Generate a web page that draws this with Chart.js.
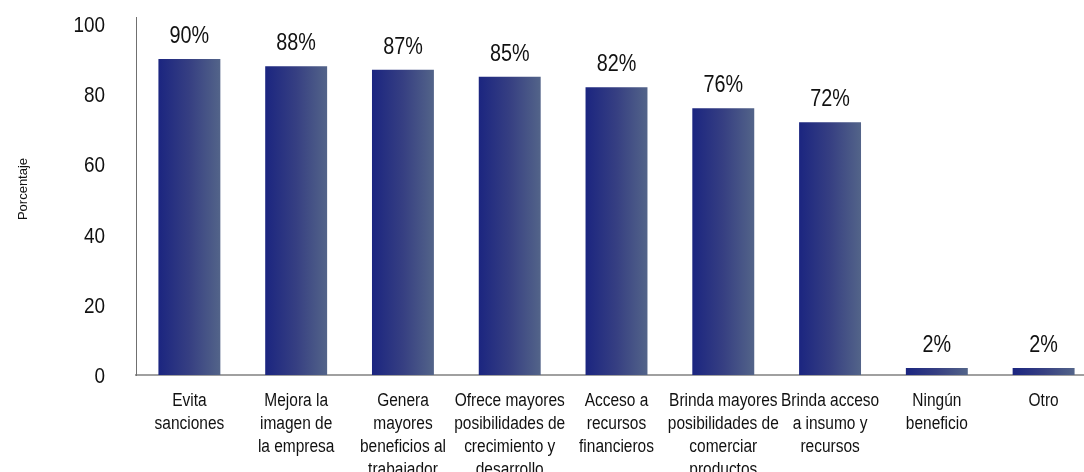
<!DOCTYPE html>
<html>
<head>
<meta charset="utf-8">
<script src="https://cdn.jsdelivr.net/npm/chart.js@4/dist/chart.umd.min.js"></script>
<style>
  html, body { margin: 0; padding: 0; background: #fff; overflow: hidden; }
  #wrap { width: 1084px; height: 472px; overflow: hidden; }
</style>
</head>
<body>
<div id="wrap"><canvas id="mainCanvas" width="1100" height="480"></canvas></div>
<script>
// categories (one array per label, split in lines as in the picture)
const categories = [
  ["Evita", "sanciones"],
  ["Mejora la", "imagen de", "la empresa"],
  ["Genera", "mayores", "beneficios al", "trabajador"],
  ["Ofrece mayores", "posibilidades de", "crecimiento y", "desarrollo"],
  ["Acceso a", "recursos", "financieros"],
  ["Brinda mayores", "posibilidades de", "comerciar", "productos"],
  ["Brinda acceso", "a insumo y", "recursos"],
  ["Ningún", "beneficio"],
  ["Otro"],
];
const percentages = [90, 88, 87, 85, 82, 76, 72, 2, 2];
const yTicks = [0, 20, 40, 60, 80, 100];
const yTitle = "Porcentaje";

const FONT = "'Liberation Sans', Arial, sans-serif";
const SQUEEZE = 0.86; // the source uses a condensed face

/**
 * Horizontal gradient for each bar, dark navy on the left
 */
function barGradient(ctx) {
  const chart = ctx.chart;
  const x = chart.scales.x;
  if (!x || !chart.chartArea) {
    return "#2c3a82";
  }
  const center = x.getPixelForValue(ctx.dataIndex);
  const half = (x.width / categories.length) * 0.58 / 2;
  const g = chart.ctx.createLinearGradient(center - half, 0, center + half, 0);
  g.addColorStop(0, "#1b2580");
  g.addColorStop(0.5, "#363f82");
  g.addColorStop(1, "#536489");
  return g;
}

/**
 * Writes text squeezed horizontally around x
 */
function narrowText(ctx, text, x, y) {
  ctx.save();
  ctx.translate(x, y);
  ctx.scale(SQUEEZE, 1);
  ctx.fillText(text, 0, 0);
  ctx.restore();
}

const axisText = {
  id: "axisText",
  afterDraw(chart) {
    const ctx = chart.ctx;
    const xs = chart.scales.x;
    const ys = chart.scales.y;
    const meta = chart.getDatasetMeta(0);

    ctx.save();
    ctx.fillStyle = "#111";
    ctx.textBaseline = "alphabetic";

    // value labels above bars
    ctx.font = "23px " + FONT;
    ctx.textAlign = "center";
    meta.data.forEach((bar, i) => {
      narrowText(ctx, percentages[i] + "%", bar.x, bar.y - 16);
    });

    // y tick labels
    ctx.font = "22px " + FONT;
    ctx.textAlign = "right";
    yTicks.forEach(v => {
      narrowText(ctx, String(v), ys.right - 31, ys.getPixelForValue(v) + 8);
    });

    // category labels
    ctx.font = "18px " + FONT;
    ctx.textAlign = "center";
    categories.forEach((lines, i) => {
      const cx = xs.getPixelForValue(i);
      lines.forEach((line, j) => {
        narrowText(ctx, line, cx, xs.top + 31 + j * 23);
      });
    });

    // axis title
    ctx.font = "13px " + FONT;
    ctx.translate(27, 189);
    ctx.rotate(-Math.PI / 2);
    ctx.fillText(yTitle, 0, 0);
    ctx.restore();
  },
};

(function main() {
  const ctx = document.getElementById("mainCanvas").getContext("2d");

  new Chart(ctx, {
    type: "bar",
    data: {
      labels: categories,
      datasets: [{
        data: percentages,
        backgroundColor: barGradient,
        borderWidth: 0,
        categoryPercentage: 0.58,
        barPercentage: 1,
      }],
    },
    options: {
      responsive: false,
      animation: false,
      layout: { padding: { top: 17, right: 3, bottom: 0, left: 2 } },
      plugins: {
        legend: { display: false },
        tooltip: { enabled: false },
      },
      scales: {
        x: {
          grid: { display: false, drawTicks: false },
          border: { display: true, color: "#a0a0a0", width: 2 },
          ticks: { display: false },
          afterFit(scale) { scale.height = 105; },
        },
        y: {
          min: 0,
          max: 102,
          grid: { display: false, drawTicks: false },
          border: { display: true, color: "#707070", width: 1 },
          afterBuildTicks(scale) {
            scale.ticks = yTicks.map(v => ({ value: v }));
          },
          ticks: { display: false },
          afterFit(scale) { scale.width = 134; },
        },
      },
    },
    plugins: [axisText],
  });
})();
</script>
</body>
</html>
